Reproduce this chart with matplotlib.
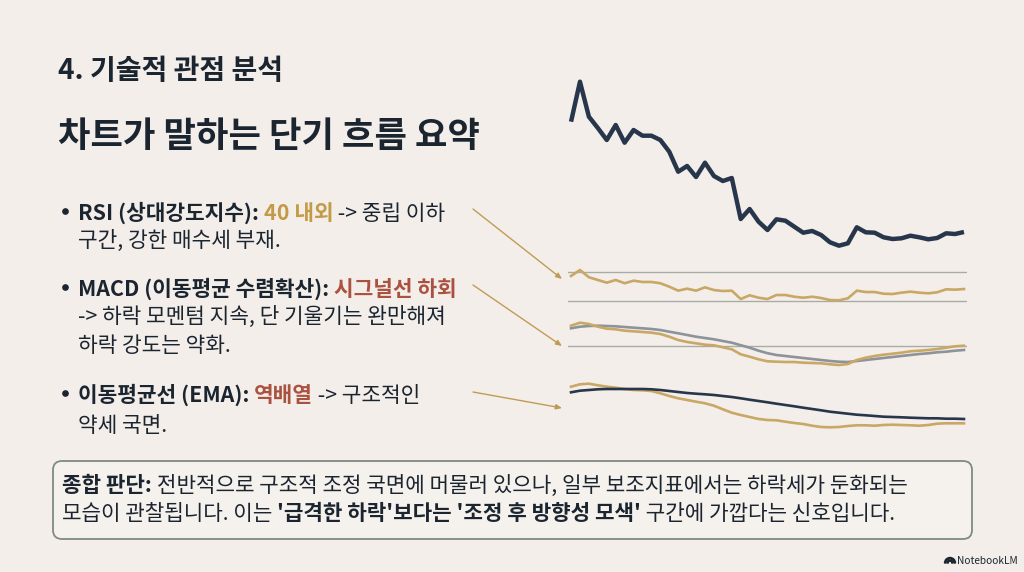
import matplotlib
matplotlib.use('Agg')
import matplotlib.pyplot as plt
from matplotlib.patches import FancyBboxPatch, Wedge

plt.rcParams['font.family'] = ['Noto Sans CJK KR', 'DejaVu Sans']

price = [133.3, 173.3, 138.3, 127, 115, 130, 112.3, 125, 119.3, 119.3, 115, 103.3, 83.3, 89, 78, 92.3,
         79, 74, 77, 36, 46, 33.3, 25, 35.7, 34.3, 28.3, 22.3, 24, 20, 12.7, 9.3, 11.7, 27.7, 22.7, 22.3,
         17.7, 16, 16.7, 19.3, 17.7, 15.7, 17, 21.7, 21, 23]
rsi = [65.1, 73.5, 63.3, 59.5, 55.7, 59.5, 54.9, 58.5, 56.7, 56.7, 54.9, 50.1, 44.5, 47.3, 44.5, 49.2,
       45.4, 44, 44.5, 32.8, 38, 34.6, 32.8, 38.4, 38.4, 36, 34.6, 36, 34.2, 31.4, 31, 33.8, 44.5, 42.6,
       42.6, 40.2, 39.8, 41.7, 43.1, 41.7, 40.8, 42.2, 46.4, 45.9, 46.8]
macd = [2.0, 2.3, 2.17, 1.9, 1.7, 1.64, 1.5, 1.44, 1.37, 1.3, 1.17, 0.9, 0.57, 0.37, 0.24, 0.1, 0.04,
        -0.16, -0.36, -0.86, -1.1, -1.36, -1.56, -1.6, -1.63, -1.63, -1.7, -1.73, -1.76, -1.86, -1.93,
        -1.83, -1.43, -1.2, -1.03, -0.9, -0.8, -0.7, -0.56, -0.5, -0.43, -0.33, -0.2, -0.06, 0.0]
signal = [1.74, 1.9, 1.97, 2.0, 1.97, 1.94, 1.87, 1.8, 1.74, 1.67, 1.57, 1.4, 1.24, 1.07, 0.9, 0.77, 0.64,
          0.47, 0.3, 0.05, -0.2, -0.5, -0.75, -0.93, -1.03, -1.13, -1.23, -1.33, -1.43, -1.53, -1.6,
          -1.63, -1.53, -1.43, -1.33, -1.23, -1.13, -1.03, -0.93, -0.83, -0.76, -0.66, -0.6, -0.5, -0.43]
ema_long = [37.7, 39.3, 40, 40.7, 41, 41, 41, 41, 41, 40.7, 40, 39, 38, 37, 36.3, 35.7, 35, 34, 33, 31.7,
            30.3, 29, 27.7, 26.3, 25, 23.7, 22.3, 21, 19.7, 18.3, 17.3, 16.3, 15.3, 14.7, 14, 13.3, 13,
            12.7, 12.3, 12, 11.7, 11.7, 11.3, 11.3, 11]
ema_short = [43.3, 45.7, 46.3, 44.7, 43.3, 42.3, 41, 40, 39.7, 39, 36.7, 34, 31.7, 30, 28.3, 26.7, 24.3,
             20.7, 17.3, 15, 13, 11, 10, 9.7, 8.3, 7, 6, 4.3, 3, 2.7, 3, 4, 4.7, 4.7, 4.3, 5, 5.3, 5,
             4.7, 4.3, 5, 6.3, 6.7, 6.7, 6.7]
days = list(range(len(price)))

BG = '#f4eeea'
NAVY = '#27364a'
GOLD = '#c9a765'
GRAY = '#8d939a'
RULE = '#a9aca6'
INK = '#1b2530'
GOLD_TXT = '#c39a45'
RED_TXT = '#a9523f'
W, H = 1024, 572

fig = plt.figure(figsize=(W / 100, H / 100), dpi=100, facecolor=BG)


def panel(top, bottom, ylim):
    ax = fig.add_axes([568 / W, 1 - bottom / H, 399 / W, (bottom - top) / H])
    ax.set_xlim(-0.34, 44.34)
    ax.set_ylim(*ylim)
    ax.axis('off')
    return ax


ax = panel(70, 255, (0, 185))
ax.plot(days, price, color=NAVY, lw=3.2, solid_joinstyle='round', solid_capstyle='butt')

ax = panel(265, 305, (24.4, 80.5))
ax.axhline(70, color=RULE, lw=1.0)
ax.axhline(30, color=RULE, lw=1.0)
ax.plot(days, rsi, color=GOLD, lw=1.9)

ax = panel(318, 370, (-2.43, 2.77))
ax.axhline(0, color=RULE, lw=1.0)
ax.plot(days, signal, color=GRAY, lw=1.9)
ax.plot(days, macd, color=GOLD, lw=1.9)

ax = panel(380, 430, (0, 50))
ax.plot(days, ema_short, color=GOLD, lw=1.9)
ax.plot(days, ema_long, color=NAVY, lw=1.9)

# overlay in pixel units for the slide text
ov = fig.add_axes([0, 0, 1, 1], zorder=5)
ov.set_xlim(0, W)
ov.set_ylim(H, 0)
ov.axis('off')
ov.patch.set_alpha(0)
rend = fig.canvas.get_renderer()


def runs(x, y, parts, size):
    # parts: (text, colour, bold)
    for s, c, b in parts:
        t = ov.text(x, y, s, color=c, fontsize=size, fontweight='bold' if b else 'normal',
                    va='center_baseline', ha='left')
        x = x + t.get_window_extent(rend).width


runs(58, 68, [('4. 기술적 관점 분석', INK, True)], 20.2)
runs(58, 133, [('차트가 말하는 단기 흐름 요약', INK, True)], 25.4)

BODY = 15.4
for y in (211, 287, 393):
    ov.plot([64.5], [y], marker='o', ms=3.8, color=INK)
runs(78, 211, [('RSI (상대강도지수): ', INK, True), ('40 내외', GOLD_TXT, True), (' -> 중립 이하', INK, False)], BODY)
runs(78, 238, [('구간, 강한 매수세 부재.', INK, False)], BODY)
runs(78, 287, [('MACD (이동평균 수렴확산): ', INK, True), ('시그널선 하회', RED_TXT, True)], BODY)
runs(78, 314, [('-> 하락 모멘텀 지속, 단 기울기는 완만해져', INK, False)], BODY)
runs(78, 344, [('하락 강도는 약화.', INK, False)], BODY)
runs(78, 393, [('이동평균선 (EMA): ', INK, True), ('역배열', RED_TXT, True), (' -> 구조적인', INK, False)], BODY)
runs(78, 423, [('약세 국면.', INK, False)], BODY)

for x0, y0, x1, y1 in [(473, 209, 562, 279), (473, 285, 562, 346), (473, 392, 562, 408)]:
    ov.annotate('', xy=(x1, y1), xytext=(x0, y0),
                arrowprops=dict(arrowstyle='-|>,head_width=0.15,head_length=0.35', color='#bf9c55', lw=1.0,
                                shrinkA=0, shrinkB=0))

ov.add_patch(FancyBboxPatch((58, 466), 909, 68, boxstyle='round,pad=5,rounding_size=9',
                            facecolor='#f5f1ed', edgecolor='#7f8b83', lw=1.3))
runs(62, 483, [('종합 판단: ', INK, True), ('전반적으로 구조적 조정 국면에 머물러 있으나, 일부 보조지표에서는 하락세가 둔화되는', INK, False)], 15.3)
runs(62, 512, [('모습이 관찰됩니다. 이는 ', INK, False), ("'급격한 하락'보다는 '조정 후 방향성 모색'", INK, True), (' 구간에 가깝다는 신호입니다.', INK, False)], 15.3)

# small NotebookLM mark
ov.add_patch(Wedge((950, 563), 5.5, 180, 360, width=1.4, color=INK))
ov.add_patch(Wedge((950, 563), 3, 180, 360, width=1.2, color=INK))
ov.text(957, 561.5, 'NotebookLM', fontsize=7.3, color=INK, va='center', ha='left')

fig.savefig('out.png', dpi=100, facecolor=BG)
